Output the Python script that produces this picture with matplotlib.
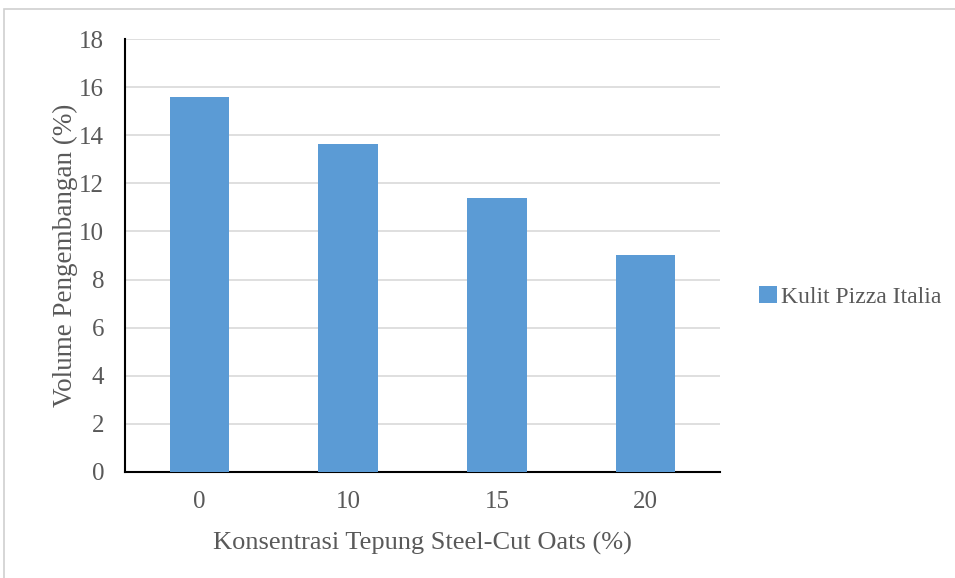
import matplotlib
matplotlib.use("Agg")
import matplotlib.pyplot as plt
from matplotlib.patches import Rectangle

categories = ["0", "10", "15", "20"]
values = [15.6, 13.65, 11.37, 9.04]
series_name = "Kulit Pizza Italia"
y_ticks = [0, 2, 4, 6, 8, 10, 12, 14, 16, 18]

plt.rcParams["font.family"] = ["Liberation Serif", "DejaVu Serif"]
text_color = "#595959"
bar_color = "#5b9bd5"

fig = plt.figure(figsize=(9.55, 5.78), dpi=100)
# outer chart frame (runs off the right and bottom edges)
fig.patches.append(Rectangle((4 / 955, -0.1), 1.2, 1.1 - 9 / 578, transform=fig.transFigure,
                             fill=False, edgecolor="#d0d0d0", linewidth=1.2))

ax = fig.add_axes([125 / 955, 1 - 472 / 578, 595 / 955, (472 - 39) / 578])
x = range(len(categories))
ax.bar(x, values, width=0.40, color=bar_color, label=series_name, zorder=3)
ax.set_xlim(-0.5, len(categories) - 0.5)
ax.set_ylim(0, 18)
ax.set_yticks(y_ticks)
ax.set_xticks(list(x))
ax.set_xticklabels(categories)
ax.grid(axis="y", color="#d9d9d9", linewidth=1.2, zorder=0)
ax.set_axisbelow(True)
for s in ["top", "right"]:
    ax.spines[s].set_visible(False)
for s in ["left", "bottom"]:
    ax.spines[s].set_color("black")
    ax.spines[s].set_linewidth(1.5)
ax.tick_params(axis="both", length=0, labelsize=18, colors=text_color)
ax.tick_params(axis="y", pad=15)
ax.tick_params(axis="x", pad=14)
ax.set_xlabel("Konsentrasi Tepung Steel-Cut Oats (%)", fontsize=19, color=text_color, labelpad=13)
ax.set_ylabel("Volume Pengembangan (%)", fontsize=19.5, color=text_color, labelpad=1)

leg = fig.legend(handles=ax.containers[0][:1], labels=[series_name],
                 loc="center left", bbox_to_anchor=(759 / 955, 1 - 297 / 578), frameon=False,
                 fontsize=17, handlelength=0.75, handleheight=0.75, handletextpad=0.2,
                 labelcolor=text_color, borderpad=0, borderaxespad=0)

fig.savefig("out.png", dpi=100)
